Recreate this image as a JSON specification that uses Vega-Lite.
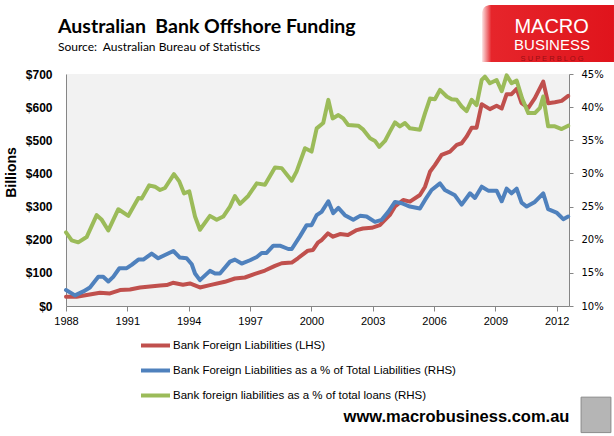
{
  "$schema": "https://vega.github.io/schema/vega-lite/v6.json",
  "width": 503,
  "height": 232,
  "autosize": {"type": "none"},
  "padding": {"left": 66, "top": 74, "right": 45, "bottom": 130},
  "background": "#ffffff",
  "title": {
    "text": "Australian\u00a0 Bank Offshore Funding",
    "subtitle": "Source:\u00a0 Australian Bureau of Statistics",
    "anchor": "start",
    "frame": "group",
    "dx": -8,
    "offset": -49,
    "font": "Lato",
    "fontSize": 19.5,
    "fontWeight": "bold",
    "color": "#000000",
    "subtitleFont": "Lato",
    "subtitleFontSize": 12,
    "subtitleColor": "#000000",
    "subtitlePadding": 5
  },
  "config": {
    "view": {"fill": "#f2f2f2", "stroke": null},
    "axis": {"grid": false}
  },
  "datasets": {
    "liabilities": [
      {"year": 1988.00, "billions": 28}, {"year": 1988.52, "billions": 28},
      {"year": 1989.66, "billions": 40}, {"year": 1990.15, "billions": 38},
      {"year": 1990.64, "billions": 48}, {"year": 1991.13, "billions": 50},
      {"year": 1991.62, "billions": 56}, {"year": 1992.60, "billions": 62},
      {"year": 1992.92, "billions": 63}, {"year": 1993.23, "billions": 70},
      {"year": 1993.72, "billions": 64}, {"year": 1994.06, "billions": 68},
      {"year": 1994.55, "billions": 56}, {"year": 1995.04, "billions": 63},
      {"year": 1995.77, "billions": 73}, {"year": 1996.26, "billions": 83},
      {"year": 1996.75, "billions": 86}, {"year": 1997.24, "billions": 97},
      {"year": 1997.73, "billions": 107}, {"year": 1998.22, "billions": 121},
      {"year": 1998.55, "billions": 129}, {"year": 1999.04, "billions": 131},
      {"year": 1999.34, "billions": 144}, {"year": 1999.83, "billions": 167},
      {"year": 2000.08, "billions": 169}, {"year": 2000.32, "billions": 191},
      {"year": 2000.50, "billions": 199}, {"year": 2000.81, "billions": 219},
      {"year": 2001.06, "billions": 209}, {"year": 2001.40, "billions": 217},
      {"year": 2001.79, "billions": 214}, {"year": 2002.22, "billions": 229},
      {"year": 2002.52, "billions": 234}, {"year": 2002.95, "billions": 236},
      {"year": 2003.35, "billions": 244}, {"year": 2003.84, "billions": 275},
      {"year": 2004.09, "billions": 300}, {"year": 2004.49, "billions": 320},
      {"year": 2004.82, "billions": 315}, {"year": 2005.31, "billions": 335},
      {"year": 2005.56, "billions": 360}, {"year": 2005.80, "billions": 405},
      {"year": 2006.04, "billions": 425}, {"year": 2006.37, "billions": 456},
      {"year": 2006.78, "billions": 466}, {"year": 2007.11, "billions": 486},
      {"year": 2007.35, "billions": 491}, {"year": 2007.59, "billions": 511},
      {"year": 2007.84, "billions": 538}, {"year": 2008.08, "billions": 538},
      {"year": 2008.33, "billions": 609}, {"year": 2008.73, "billions": 594},
      {"year": 2009.06, "billions": 604}, {"year": 2009.31, "billions": 596},
      {"year": 2009.55, "billions": 639}, {"year": 2009.79, "billions": 639},
      {"year": 2010.04, "billions": 655}, {"year": 2010.28, "billions": 612},
      {"year": 2010.61, "billions": 598}, {"year": 2010.93, "billions": 627},
      {"year": 2011.34, "billions": 677}, {"year": 2011.58, "billions": 612},
      {"year": 2011.91, "billions": 615}, {"year": 2012.24, "billions": 619},
      {"year": 2012.56, "billions": 634}
    ],
    "share_of_liabilities": [
      {"year": 1988.00, "pct": 12.4}, {"year": 1988.44, "pct": 11.6},
      {"year": 1988.85, "pct": 12.2}, {"year": 1989.17, "pct": 12.8},
      {"year": 1989.58, "pct": 14.4}, {"year": 1989.82, "pct": 14.4},
      {"year": 1990.07, "pct": 13.7}, {"year": 1990.31, "pct": 14.4},
      {"year": 1990.61, "pct": 15.7}, {"year": 1990.97, "pct": 15.7},
      {"year": 1991.21, "pct": 16.2}, {"year": 1991.54, "pct": 17.0},
      {"year": 1991.78, "pct": 17.0}, {"year": 1992.19, "pct": 17.9},
      {"year": 1992.51, "pct": 17.2}, {"year": 1992.84, "pct": 17.7},
      {"year": 1993.25, "pct": 18.3}, {"year": 1993.57, "pct": 17.3},
      {"year": 1993.90, "pct": 17.2}, {"year": 1994.15, "pct": 16.3},
      {"year": 1994.31, "pct": 14.9}, {"year": 1994.55, "pct": 13.9},
      {"year": 1995.04, "pct": 15.3}, {"year": 1995.29, "pct": 14.9},
      {"year": 1995.53, "pct": 14.9}, {"year": 1996.02, "pct": 16.7},
      {"year": 1996.26, "pct": 17.0}, {"year": 1996.59, "pct": 16.4},
      {"year": 1997.00, "pct": 16.9}, {"year": 1997.33, "pct": 17.4},
      {"year": 1997.57, "pct": 18.0}, {"year": 1997.81, "pct": 18.0},
      {"year": 1998.14, "pct": 19.1}, {"year": 1998.46, "pct": 19.1},
      {"year": 1998.87, "pct": 18.6}, {"year": 1999.04, "pct": 18.6},
      {"year": 1999.44, "pct": 20.5}, {"year": 1999.77, "pct": 22.2},
      {"year": 2000.01, "pct": 22.2}, {"year": 2000.26, "pct": 23.7},
      {"year": 2000.50, "pct": 24.2}, {"year": 2000.83, "pct": 25.8},
      {"year": 2001.07, "pct": 24.0}, {"year": 2001.32, "pct": 24.8},
      {"year": 2001.64, "pct": 23.7}, {"year": 2002.05, "pct": 23.0},
      {"year": 2002.38, "pct": 23.6}, {"year": 2002.70, "pct": 23.5},
      {"year": 2003.11, "pct": 22.7}, {"year": 2003.44, "pct": 23.0},
      {"year": 2003.76, "pct": 24.2}, {"year": 2004.09, "pct": 25.7},
      {"year": 2004.42, "pct": 25.5}, {"year": 2004.82, "pct": 25.0},
      {"year": 2005.31, "pct": 24.7}, {"year": 2005.56, "pct": 26.0},
      {"year": 2005.88, "pct": 27.5}, {"year": 2006.29, "pct": 28.5},
      {"year": 2006.53, "pct": 27.5}, {"year": 2007.02, "pct": 26.7},
      {"year": 2007.35, "pct": 25.3}, {"year": 2007.76, "pct": 27.0},
      {"year": 2008.00, "pct": 26.3}, {"year": 2008.33, "pct": 28.0},
      {"year": 2008.65, "pct": 27.4}, {"year": 2009.06, "pct": 27.4},
      {"year": 2009.31, "pct": 25.8}, {"year": 2009.55, "pct": 27.7},
      {"year": 2009.79, "pct": 27.0}, {"year": 2010.04, "pct": 27.7},
      {"year": 2010.28, "pct": 25.6}, {"year": 2010.53, "pct": 25.0},
      {"year": 2010.93, "pct": 25.7}, {"year": 2011.34, "pct": 27.0},
      {"year": 2011.58, "pct": 24.6}, {"year": 2011.99, "pct": 24.1},
      {"year": 2012.32, "pct": 23.1}, {"year": 2012.56, "pct": 23.5}
    ],
    "share_of_loans": [
      {"year": 1988.00, "pct": 21.1}, {"year": 1988.28, "pct": 19.9},
      {"year": 1988.60, "pct": 19.6}, {"year": 1989.01, "pct": 20.4},
      {"year": 1989.50, "pct": 23.7}, {"year": 1989.75, "pct": 23.0},
      {"year": 1990.07, "pct": 21.4}, {"year": 1990.56, "pct": 24.6},
      {"year": 1991.05, "pct": 23.6}, {"year": 1991.54, "pct": 26.3},
      {"year": 1991.70, "pct": 26.2}, {"year": 1992.07, "pct": 28.2},
      {"year": 1992.35, "pct": 28.0}, {"year": 1992.60, "pct": 27.5},
      {"year": 1992.84, "pct": 27.8}, {"year": 1993.28, "pct": 29.9},
      {"year": 1993.54, "pct": 28.8}, {"year": 1993.77, "pct": 27.0},
      {"year": 1994.03, "pct": 27.3}, {"year": 1994.31, "pct": 23.5},
      {"year": 1994.55, "pct": 21.5}, {"year": 1995.04, "pct": 23.6},
      {"year": 1995.37, "pct": 23.0}, {"year": 1995.69, "pct": 23.5},
      {"year": 1996.02, "pct": 25.0}, {"year": 1996.26, "pct": 26.6},
      {"year": 1996.51, "pct": 25.4}, {"year": 1996.91, "pct": 26.6},
      {"year": 1997.33, "pct": 28.5}, {"year": 1997.73, "pct": 28.3},
      {"year": 1998.22, "pct": 30.9}, {"year": 1998.55, "pct": 30.8},
      {"year": 1999.04, "pct": 28.9}, {"year": 1999.28, "pct": 30.3},
      {"year": 1999.69, "pct": 33.8}, {"year": 2000.01, "pct": 33.3},
      {"year": 2000.26, "pct": 36.8}, {"year": 2000.58, "pct": 37.6},
      {"year": 2000.83, "pct": 41.1}, {"year": 2001.04, "pct": 38.3},
      {"year": 2001.32, "pct": 38.8}, {"year": 2001.56, "pct": 38.3},
      {"year": 2001.80, "pct": 37.3}, {"year": 2002.29, "pct": 37.2},
      {"year": 2002.54, "pct": 36.6}, {"year": 2002.87, "pct": 35.3},
      {"year": 2003.11, "pct": 34.9}, {"year": 2003.32, "pct": 34.0},
      {"year": 2003.60, "pct": 34.9}, {"year": 2003.84, "pct": 36.3},
      {"year": 2004.09, "pct": 37.7}, {"year": 2004.33, "pct": 37.1},
      {"year": 2004.58, "pct": 37.6}, {"year": 2004.82, "pct": 36.8},
      {"year": 2005.31, "pct": 36.6}, {"year": 2005.56, "pct": 39.1},
      {"year": 2005.80, "pct": 41.3}, {"year": 2006.04, "pct": 41.2},
      {"year": 2006.29, "pct": 42.6}, {"year": 2006.62, "pct": 41.6},
      {"year": 2006.86, "pct": 41.2}, {"year": 2007.11, "pct": 41.1},
      {"year": 2007.35, "pct": 40.1}, {"year": 2007.59, "pct": 39.4},
      {"year": 2007.84, "pct": 41.1}, {"year": 2008.08, "pct": 40.3},
      {"year": 2008.33, "pct": 44.1}, {"year": 2008.49, "pct": 44.6},
      {"year": 2008.73, "pct": 43.6}, {"year": 2009.06, "pct": 44.1},
      {"year": 2009.31, "pct": 42.4}, {"year": 2009.55, "pct": 44.8},
      {"year": 2009.79, "pct": 43.6}, {"year": 2010.04, "pct": 44.0},
      {"year": 2010.31, "pct": 41.3}, {"year": 2010.61, "pct": 39.1},
      {"year": 2010.93, "pct": 39.1}, {"year": 2011.18, "pct": 39.9},
      {"year": 2011.34, "pct": 41.6}, {"year": 2011.58, "pct": 37.1},
      {"year": 2011.91, "pct": 37.1}, {"year": 2012.24, "pct": 36.7},
      {"year": 2012.56, "pct": 37.2}
    ]
  },
  "layer": [
    {
      "data": {"name": "liabilities"},
      "mark": {"type": "line", "strokeWidth": 4, "strokeJoin": "round", "strokeCap": "round"},
      "encoding": {
        "x": {
          "field": "year", "type": "quantitative",
          "scale": {"domain": [1988, 2012.6], "nice": false, "zero": false},
          "axis": {
            "values": [1988, 1991, 1994, 1997, 2000, 2003, 2006, 2009, 2012],
            "format": "d", "labelFlush": false,
            "labelFont": "Liberation Sans", "labelFontSize": 11, "labelColor": "#000000", "labelPadding": 4,
            "tickSize": 5, "tickColor": "#868686", "domainColor": "#868686",
            "title": "www.macrobusiness.com.au",
            "titleX": 390, "titleY": 110, "titleAlign": "center", "titleBaseline": "middle",
            "titleFont": "Liberation Sans", "titleFontSize": 16.5, "titleFontWeight": "bold", "titleColor": "#000000"
          }
        },
        "y": {
          "field": "billions", "type": "quantitative",
          "scale": {"domain": [0, 700], "nice": false},
          "axis": {
            "orient": "left", "values": [0, 100, 200, 300, 400, 500, 600, 700], "format": "$d",
            "labelFont": "Liberation Sans", "labelFontSize": 12, "labelFontWeight": "bold", "labelColor": "#000000",
            "labelPadding": 14, "ticks": false, "tickSize": 0, "domainColor": "#868686",
            "title": "Billions", "titleFont": "Liberation Sans", "titleFontSize": 14, "titleFontWeight": "bold",
            "titleColor": "#000000", "titleAngle": -90, "titleX": -55, "titleY": 98,
            "titleAlign": "center", "titleBaseline": "middle"
          }
        },
        "color": {
          "datum": "Bank Foreign Liabilities (LHS)", "type": "nominal",
          "scale": {
            "domain": [
              "Bank Foreign Liabilities (LHS)",
              "Bank Foreign Liabilities as a % of Total Liabilities (RHS)",
              "Bank foreign liabilities as a % of total loans (RHS)"
            ],
            "range": ["#c0504d", "#4f81bd", "#9bbb59"]
          },
          "legend": {
            "orient": "none", "legendX": 73, "legendY": 255, "title": null,
            "symbolType": "stroke", "symbolSize": 841, "symbolStrokeWidth": 4,
            "labelFont": "Liberation Sans", "labelFontSize": 11.5, "labelColor": "#000000",
            "labelLimit": 0, "labelOffset": 1, "rowPadding": -3.5
          }
        }
      }
    },
    {
      "encoding": {
        "x": {"field": "year", "type": "quantitative"},
        "y": {
          "field": "pct", "type": "quantitative",
          "scale": {"domain": [10, 45], "nice": false, "zero": false},
          "axis": {
            "orient": "right", "values": [10, 15, 20, 25, 30, 35, 40, 45],
            "labelExpr": "datum.value + '%'",
            "labelFont": "DejaVu Sans", "labelFontSize": 10, "labelColor": "#000000", "labelPadding": 8,
            "tickSize": 4, "tickColor": "#868686", "domainColor": "#868686", "title": null
          }
        }
      },
      "layer": [
        {
          "data": {"name": "share_of_liabilities"},
          "mark": {"type": "line", "strokeWidth": 4, "strokeJoin": "round", "strokeCap": "round"},
          "encoding": {"color": {"datum": "Bank Foreign Liabilities as a % of Total Liabilities (RHS)", "type": "nominal"}}
        },
        {
          "data": {"name": "share_of_loans"},
          "mark": {"type": "line", "strokeWidth": 4, "strokeJoin": "round", "strokeCap": "round"},
          "encoding": {"color": {"datum": "Bank foreign liabilities as a % of total loans (RHS)", "type": "nominal"}}
        }
      ]
    },
    {
      "data": {"values": [{}]},
      "mark": {
        "type": "rect", "cornerRadiusTopLeft": 8,
        "fill": {
          "gradient": "linear", "x1": 0, "y1": 0, "x2": 1, "y2": 0,
          "stops": [
            {"offset": 0, "color": "#fbe0e0"},
            {"offset": 0.07, "color": "#e6252b"},
            {"offset": 1, "color": "#e0141c"}
          ]
        }
      },
      "encoding": {
        "x": {"datum": 2008.35, "type": "quantitative"},
        "x2": {"datum": 2014.8},
        "y": {"datum": 908, "type": "quantitative", "scale": {"domain": [0, 700]}, "axis": null},
        "y2": {"datum": 736}
      }
    },
    {
      "data": {"values": [{}]},
      "mark": {"type": "text", "text": "MACRO", "font": "Liberation Sans", "fontSize": 20, "color": "#ffffff", "align": "center", "baseline": "middle"},
      "encoding": {
        "x": {"datum": 2011.75, "type": "quantitative"},
        "y": {"datum": 843, "type": "quantitative", "scale": {"domain": [0, 700]}, "axis": null}
      }
    },
    {
      "data": {"values": [{}]},
      "mark": {"type": "text", "text": "BUSINESS", "font": "Liberation Sans", "fontSize": 15, "color": "#ffffff", "align": "center", "baseline": "middle"},
      "encoding": {
        "x": {"datum": 2011.77, "type": "quantitative"},
        "y": {"datum": 787, "type": "quantitative", "scale": {"domain": [0, 700]}, "axis": null}
      }
    },
    {
      "data": {"values": [{}]},
      "mark": {"type": "text", "text": "S  U  P  E  R  B  L  O  G", "font": "Liberation Sans", "fontSize": 7.5, "color": "#9a1015", "align": "center", "baseline": "middle"},
      "encoding": {
        "x": {"datum": 2011.77, "type": "quantitative"},
        "y": {"datum": 744, "type": "quantitative", "scale": {"domain": [0, 700]}, "axis": null}
      }
    },
    {
      "data": {"values": [{}]},
      "mark": {"type": "rect", "fill": "#b5b5b5", "stroke": "#8a8a8a", "strokeWidth": 1},
      "encoding": {
        "x": {"datum": 2013.19, "type": "quantitative"},
        "x2": {"datum": 2014.65},
        "y": {"datum": -275, "type": "quantitative", "scale": {"domain": [0, 700]}, "axis": null},
        "y2": {"datum": -382}
      }
    }
  ],
  "resolve": {"scale": {"y": "independent"}}
}
